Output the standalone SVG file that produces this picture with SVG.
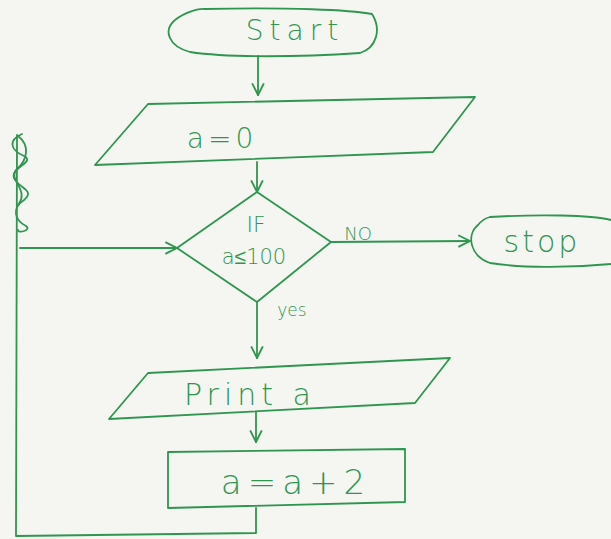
<svg xmlns="http://www.w3.org/2000/svg" width="611" height="539" viewBox="0 0 611 539">
<style>
.s{fill:none;stroke:#2f9650;stroke-width:1.8;stroke-linecap:round;stroke-linejoin:round}
.t{fill:#2f9650;font-family:"DejaVu Sans","Liberation Sans",sans-serif;font-weight:300}
</style>
<defs>
<marker id="v" viewBox="0 0 12 12" refX="11" refY="6" markerWidth="14" markerHeight="14" markerUnits="userSpaceOnUse" orient="auto">
<path d="M1,1 L11,6 L1,11" fill="none" stroke="#2f9650" stroke-width="1.6"/>
</marker>
</defs>
<rect width="611" height="539" fill="#f5f5f1"/>
<g id="connectors">
<path class="s" d="M258,56 L258,95" marker-end="url(#v)"/>
<path class="s" d="M257,162 L257,192" marker-end="url(#v)"/>
<path class="s" d="M331,242 L470,241" marker-end="url(#v)"/>
<path class="s" d="M257,302 L257,358" marker-end="url(#v)"/>
<path class="s" d="M256,412 L256,442" marker-end="url(#v)"/>
<path class="s" d="M256,508 L256,533 L16,536 L17,135"/>
<path class="s" d="M20,248 L177,248" marker-end="url(#v)"/>
<path class="s" d="M22,134 C8,140 10,150 24,156 C36,162 10,168 14,178 C18,188 36,190 24,200 C12,208 14,220 26,226 C32,230 18,234 18,230"/>
<path class="s" d="M18,136 C30,145 28,160 16,170 C8,180 30,190 18,205"/>
</g>
<g id="start">
<path class="s" d="M205,9 C290,7 350,10 372,14 C382,30 376,48 360,53 C300,57 230,58 190,52 C168,46 163,30 175,20 C185,12 200,8 205,9"/>
<text class="t" x="295" y="40" font-size="28" letter-spacing="6" text-anchor="middle">Start</text>
</g>
<g id="init">
<path class="s" d="M148,104 L475,97 L433,152 L95,165 Z"/>
<text class="t" x="222" y="148" font-size="28" letter-spacing="4" text-anchor="middle">a=0</text>
</g>
<g id="decision">
<path class="s" d="M257,192 L331,242 L257,302 L177,248 Z"/>
<text class="t" x="256" y="232" font-size="22" text-anchor="middle">IF</text>
<text class="t" x="254" y="264" font-size="21" text-anchor="middle">a≤100</text>
<text class="t" x="358" y="240" font-size="18" text-anchor="middle">NO</text>
<text class="t" x="292" y="316" font-size="17" text-anchor="middle">yes</text>
</g>
<g id="stop">
<path class="s" d="M490,217 C540,214 590,215 611,220 M611,264 C570,268 520,268 490,263 C470,256 466,235 478,225 C482,220 486,218 490,217"/>
<text class="t" x="542" y="252" font-size="30" letter-spacing="3" text-anchor="middle">stop</text>
</g>
<g id="print">
<path class="s" d="M148,373 L450,358 L415,403 L109,419 Z"/>
<text class="t" x="250" y="405" font-size="30" letter-spacing="5" text-anchor="middle">Print a</text>
</g>
<g id="increment">
<path class="s" d="M168,452 L405,449 L405,502 L168,508 Z"/>
<text class="t" x="296" y="494" font-size="34" letter-spacing="6" text-anchor="middle">a=a+2</text>
</g>
</svg>
